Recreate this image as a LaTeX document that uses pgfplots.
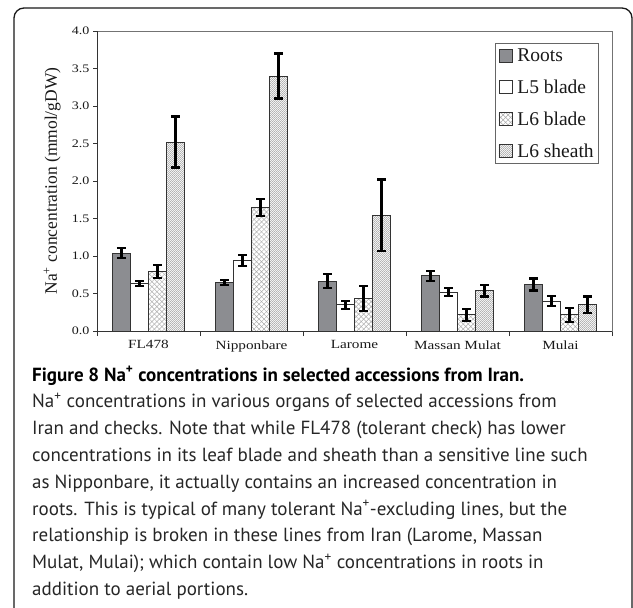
\documentclass[border=0pt]{standalone}
\usepackage{fontspec}
\usepackage{pgfplots}
\pgfplotsset{compat=1.18}
\usetikzlibrary{patterns}
\setmainfont{PT Sans}
\newfontfamily\serifw[FakeStretch=1.22]{Liberation Serif}
\newfontfamily\serifn{Liberation Serif}
\definecolor{rootgray}{RGB}{140,141,145}
\pgfdeclarepatternformonly{diagcross}{\pgfqpoint{-0.5pt}{-0.5pt}}{\pgfqpoint{5.5pt}{5.5pt}}{\pgfqpoint{5pt}{5pt}}{%
  \pgfsetlinewidth{0.45pt}%
  \pgfpathmoveto{\pgfqpoint{0pt}{0pt}}\pgfpathlineto{\pgfqpoint{5pt}{5pt}}%
  \pgfpathmoveto{\pgfqpoint{0pt}{5pt}}\pgfpathlineto{\pgfqpoint{5pt}{0pt}}%
  \pgfusepath{stroke}}
\pgfdeclarepatternformonly{finedots}{\pgfqpoint{0pt}{0pt}}{\pgfqpoint{2.4pt}{2.4pt}}{\pgfqpoint{2.4pt}{2.4pt}}{%
  \pgfpathrectangle{\pgfqpoint{0pt}{0pt}}{\pgfqpoint{0.85pt}{0.85pt}}%
  \pgfpathrectangle{\pgfqpoint{1.2pt}{1.2pt}}{\pgfqpoint{0.85pt}{0.85pt}}%
  \pgfusepath{fill}}
\newcommand\capfont{\fontsize{19bp}{26.8bp}\selectfont}
\pgfplotsset{myerr/.style={error bars/.cd, y dir=both, y explicit,
  error bar style={line width=2.2bp, black, solid},
  error mark options={rotate=90, mark size=4.5bp, line width=2.2bp, black}}}
\begin{document}
\begin{tikzpicture}
\useasboundingbox (0,0) rectangle (633bp,-608bp);
\begin{scope}
\clip (0,0) rectangle (633bp,-608bp);
\draw[line width=1.3bp, black!90, rounded corners=10bp] (14bp,-640bp) rectangle (632bp,-8bp);
\end{scope}
\begin{axis}[
  at={(97bp,-331bp)}, anchor=south west,
  scale only axis, width=515bp, height=300bp,
  xmin=-0.5, xmax=4.5, ymin=0, ymax=4,
  ybar=0pt, bar width=18bp,
  axis line style={black!55, line width=0.8bp},
  xtick={0,1,2,3,4},
  xticklabels={FL478,Nipponbare,Larome,Massan Mulat,Mulai},
  major x tick style={draw=none},
  minor xtick={-0.5,0.5,1.5,2.5,3.5,4.5},
  ytick={0,0.5,1,1.5,2,2.5,3,3.5,4},
  yticklabel style={/pgf/number format/.cd, fixed, fixed zerofill, precision=1},
  /pgf/number format/assume math mode=true,
  tick align=outside, xtick pos=bottom, ytick pos=left,
  tick style={black!80, line width=0.7bp},
  major tick length=4bp, minor tick length=5bp,
  tick label style={font=\serifw\fontsize{11.5bp}{13bp}\selectfont, text=black!90},
  xticklabel style={font=\serifw\fontsize{12.5bp}{14bp}\selectfont, yshift=-2bp},
  ylabel={Na\textsuperscript{+} concentration (mmol/gDW)},
  ylabel style={font=\serifn\fontsize{17.5bp}{19bp}\selectfont, text=black!90, at={(axis description cs:-0.087,0.5)}, anchor=center},
  legend image code/.code={\draw[#1, line width=0.7bp] (0bp,-6.5bp) rectangle (13bp,6.5bp); \path (16bp,0bp);},
  legend style={at={(axis description cs:0.975,0.96)}, anchor=north east,
    draw=black!60, line width=0.8bp, font=\serifn\fontsize{19.5bp}{22bp}\selectfont,
    text=black!90, row sep=13bp, inner sep=3bp, cells={anchor=west}},
]
\addplot[fill=rootgray, draw=black!80, line width=0.9bp, myerr] coordinates {
  (0,1.04) +- (0,0.07) (1,0.65) +- (0,0.035) (2,0.665) +- (0,0.09) (3,0.735) +- (0,0.065) (4,0.62) +- (0,0.08)};
\addplot[fill=white, draw=black!80, line width=0.9bp, myerr] coordinates {
  (0,0.635) +- (0,0.035) (1,0.94) +- (0,0.075) (2,0.35) +- (0,0.055) (3,0.52) +- (0,0.05) (4,0.40) +- (0,0.065)};
\addplot[pattern=diagcross, pattern color=gray!65, draw=black!80, line width=0.9bp, myerr] coordinates {
  (0,0.795) +- (0,0.085) (1,1.645) +- (0,0.11) (2,0.435) +- (0,0.165) (3,0.215) +- (0,0.08) (4,0.215) +- (0,0.095)};
\addplot[pattern=finedots, pattern color=black!60, draw=black!80, line width=0.9bp, myerr] coordinates {
  (0,2.52) +- (0,0.34) (1,3.40) +- (0,0.30) (2,1.545) +- (0,0.475) (3,0.535) +- (0,0.075) (4,0.35) +- (0,0.11)};
\legend{Roots, L5 blade, L6 blade, L6 sheath}
\draw[black!80, line width=0.9bp] (rel axis cs:0,1) -- (rel axis cs:0,0) -- (rel axis cs:1,0);
\end{axis}
\begin{scope}[every node/.style={anchor=base west, inner sep=0pt, font=\capfont, text=black!85}]
\node at (32bp,-381bp) {\textbf{\color{black}Figure 8 Na\textsuperscript{+} concentrations in selected accessions from Iran.}};
\node at (32bp,-407.8bp) {Na\textsuperscript{+} concentrations in various organs of selected accessions from};
\node at (32bp,-434.6bp) {Iran and checks. Note that while FL478 (tolerant check) has lower};
\node at (32bp,-461.4bp) {concentrations in its leaf blade and sheath than a sensitive line such};
\node at (32bp,-488.2bp) {as Nipponbare, it actually contains an increased concentration in};
\node at (32bp,-515bp) {roots. This is typical of many tolerant Na\textsuperscript{+}-excluding lines, but the};
\node at (32bp,-541.8bp) {relationship is broken in these lines from Iran (Larome, Massan};
\node at (32bp,-568.6bp) {Mulat, Mulai); which contain low Na\textsuperscript{+} concentrations in roots in};
\node at (32bp,-595.4bp) {addition to aerial portions.};
\end{scope}
\end{tikzpicture}
\end{document}
